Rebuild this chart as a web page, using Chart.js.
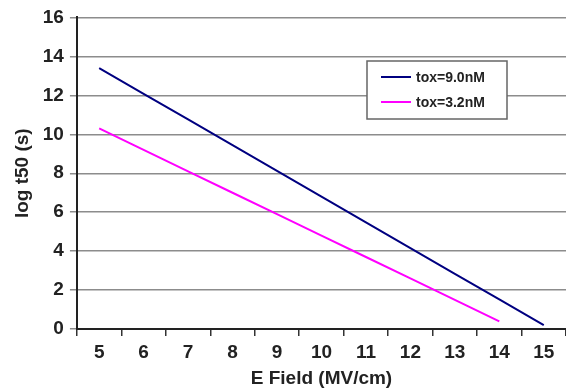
<!DOCTYPE html>
<html>
<head>
<meta charset="utf-8">
<script src="https://cdn.jsdelivr.net/npm/chart.js@4.4.0/dist/chart.umd.min.js"></script>
<style>
  html, body { margin: 0; padding: 0; background: #fff; overflow: hidden; }
  #wrap { width: 566px; height: 390px; }
</style>
</head>
<body>
<div id="wrap"><canvas id="chart" width="566" height="390"></canvas></div>
<script>
// data
const eField = ['5', '6', '7', '8', '9', '10', '11', '12', '13', '14', '15'];
const tox90 = [13.4, 12.08, 10.76, 9.44, 8.12, 6.8, 5.48, 4.16, 2.84, 1.52, 0.2];
const tox32 = [10.3, 9.2, 8.1, 7.0, 5.9, 4.8, 3.7, 2.6, 1.5, 0.4, null];
const seriesNames = ['tox=9.0nM', 'tox=3.2nM'];
const yTicks = [0, 2, 4, 6, 8, 10, 12, 14, 16];

const FONT = 'Liberation Sans, Arial, sans-serif';

// legend drawn inside the plot, like the excel box
const boxLegend = {
    id: 'boxLegend',
    afterDraw(chart) {
        const ctx = chart.ctx;
        const x = 367, y = 61, w = 140, h = 58;
        ctx.save();
        ctx.fillStyle = '#fff';
        ctx.fillRect(x, y, w, h);
        ctx.strokeStyle = '#666';
        ctx.lineWidth = 1.5;
        ctx.strokeRect(x, y, w, h);
        ctx.font = 'bold 14px ' + FONT;
        ctx.textBaseline = 'middle';
        chart.data.datasets.forEach((ds, i) => {
            let cy = y + 16 + i * 25;
            ctx.strokeStyle = ds.borderColor;
            ctx.lineWidth = 2;
            ctx.beginPath();
            ctx.moveTo(381, cy);
            ctx.lineTo(411, cy);
            ctx.stroke();
            ctx.fillStyle = '#222';
            ctx.fillText(ds.label, 416, cy + 1);
        });
        ctx.restore();
    }
};

new Chart(document.getElementById('chart').getContext('2d'), {
    type: 'line',
    data: {
        labels: eField,
        datasets: [{
            label: seriesNames[0],
            data: tox90,
            borderColor: '#000080',
            borderWidth: 2,
            pointRadius: 0,
            tension: 0
        }, {
            label: seriesNames[1],
            data: tox32,
            borderColor: '#ff00ff',
            borderWidth: 2,
            pointRadius: 0,
            tension: 0
        }]
    },
    options: {
        responsive: false,
        animation: false,
        layout: { padding: { top: 2, right: 0, bottom: 2, left: 11 } },
        plugins: {
            legend: { display: false },
            tooltip: { enabled: false }
        },
        scales: {
            x: {
                offset: true,
                grid: {
                    offset: true,
                    drawOnChartArea: false,
                    drawTicks: true,
                    tickLength: 7,
                    color: '#333',
                    lineWidth: 1.5
                },
                border: { color: '#222', width: 2 },
                ticks: {
                    color: '#222',
                    padding: 6,
                    maxRotation: 0,
                    font: { family: FONT, size: 19, weight: 'bold', lineHeight: 1.1 }
                },
                title: {
                    display: true,
                    text: 'E Field (MV/cm)',
                    color: '#222',
                    padding: { top: 0, bottom: 0 },
                    font: { family: FONT, size: 19, weight: 'bold', lineHeight: 1.0 }
                }
            },
            y: {
                min: 0,
                max: 16,
                afterBuildTicks: (axis) => { axis.ticks = yTicks.map(v => ({ value: v })); },
                grid: {
                    color: '#8c8c8c',
                    lineWidth: 1.5,
                    drawTicks: true,
                    tickLength: 7
                },
                border: { color: '#222', width: 2 },
                ticks: {
                    color: '#222',
                    padding: 6,
                    font: { family: FONT, size: 19, weight: 'bold' }
                },
                title: {
                    display: true,
                    text: 'log t50 (s)',
                    color: '#222',
                    padding: { top: 0, bottom: 3 },
                    font: { family: FONT, size: 19, weight: 'bold' }
                }
            }
        }
    },
    plugins: [boxLegend]
});
</script>
</body>
</html>
